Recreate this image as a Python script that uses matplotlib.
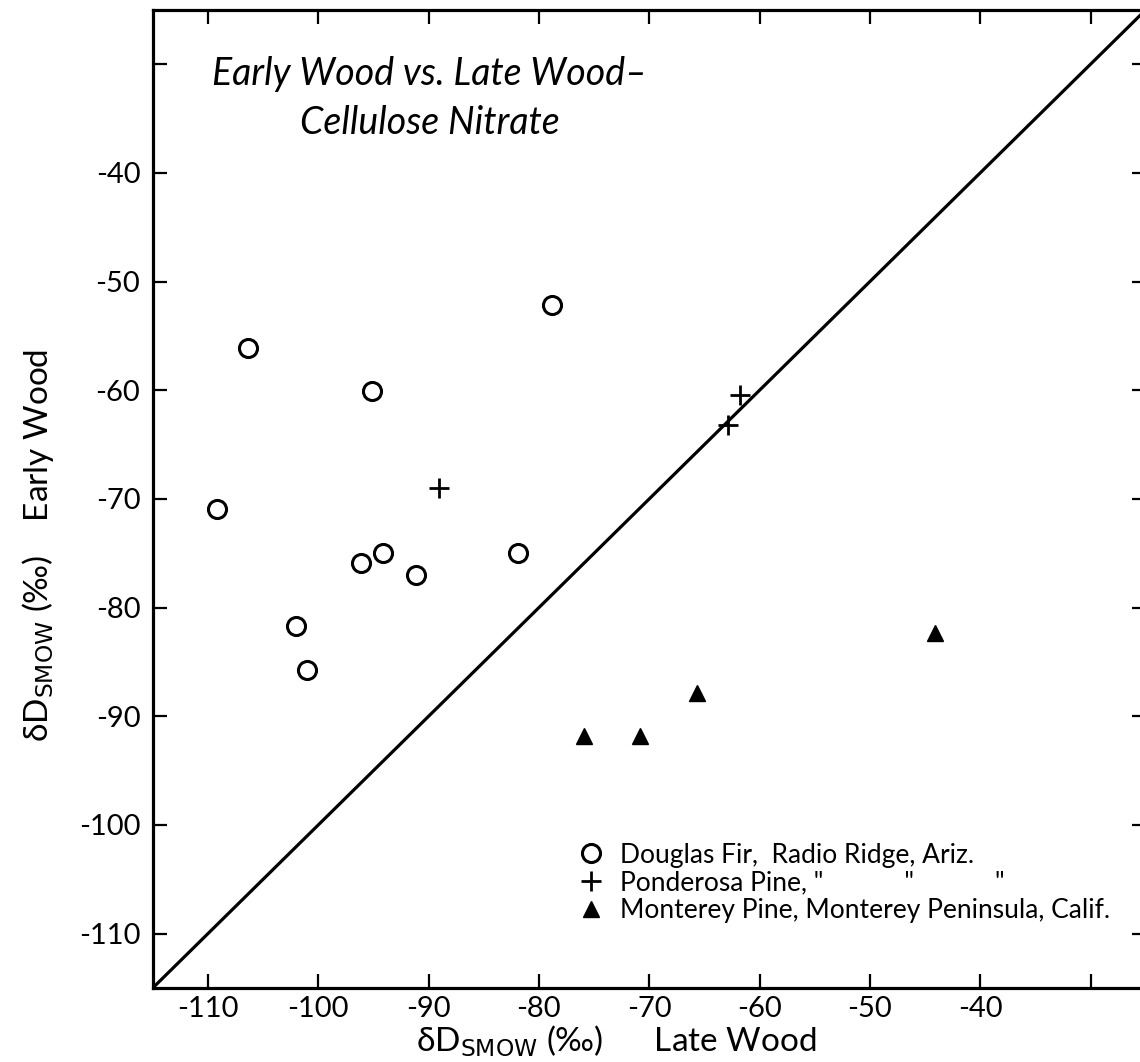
import matplotlib
matplotlib.use("Agg")
import matplotlib.pyplot as plt

plt.rcParams['font.family'] = ['Lato', 'DejaVu Sans']
plt.rcParams['axes.unicode_minus'] = False
plt.rcParams['mathtext.fontset'] = 'custom'
plt.rcParams['mathtext.rm'] = 'DejaVu Sans'

# late wood (x) vs early wood (y), delta D SMOW in per mil
fir_late = [-106.4, -109.2, -95.1, -78.8, -96.1, -94.1, -91.1, -81.9, -102.0, -101.0]
fir_early = [-56.1, -70.9, -60.1, -52.2, -75.9, -75.0, -77.0, -75.0, -81.7, -85.7]

ponderosa_late = [-89.1, -61.8, -62.9]
ponderosa_early = [-69.0, -60.4, -63.2]

monterey_late = [-75.9, -70.8, -65.7, -44.1]
monterey_early = [-91.8, -91.8, -87.9, -82.3]

one_to_one = [-115, -25]

tick_vals = [-110, -100, -90, -80, -70, -60, -50, -40, -30]
tick_labels = ["-110", "-100", "-90", "-80", "-70", "-60", "-50", "-40", ""]

labels = ["Douglas Fir,  Radio Ridge, Ariz.",
          "Ponderosa Pine, \"            \"            \"",
          "Monterey Pine, Monterey Peninsula, Calif."]

fig = plt.figure(figsize=(11.4, 10.62), dpi=100)
ax = fig.add_axes([0.134, 0.0697, 0.871, 0.921])

ax.plot(one_to_one, one_to_one, color="black", lw=2.3)
ax.plot(fir_late, fir_early, "o", mfc="white", mec="black", mew=2.2, ms=13,
        label=labels[0])
ax.plot(ponderosa_late, ponderosa_early, "+", color="black", mew=2.0, ms=14,
        label=labels[1])
ax.plot(monterey_late, monterey_early, "^", color="black", ms=12,
        label=labels[2])

ax.set_xlim(-115, -25)
ax.set_ylim(-115, -25)
ax.set_xticks(tick_vals, tick_labels)
ax.set_yticks(tick_vals, tick_labels)
ax.tick_params(direction="in", length=10, width=1.6, top=True, right=True,
               labelsize=21)
ax.tick_params(axis="x", pad=6)
ax.tick_params(axis="y", pad=9)
for s in ax.spines.values():
    s.set_linewidth(2.3)

ax.set_xlabel(r"δD$_{\mathrm{SMOW}}$ (‰)      Late Wood", fontsize=24)
ax.xaxis.set_label_coords(0.467, -0.036)
ax.set_ylabel(r"δD$_{\mathrm{SMOW}}$ (‰)    Early Wood", fontsize=24)
ax.yaxis.set_label_coords(-0.097, 0.452)

ax.text(0.279, 0.953, "Early Wood vs. Late Wood–\nCellulose Nitrate",
        transform=ax.transAxes, ha="center", va="top", fontsize=27,
        style="italic", linespacing=1.45)

ax.legend(loc="lower left", bbox_to_anchor=(0.415, 0.053), frameon=False,
          fontsize=19, handletextpad=0.6, labelspacing=0.1,
          handlelength=1.0, borderpad=0)

fig.savefig("out.png", dpi=100)
